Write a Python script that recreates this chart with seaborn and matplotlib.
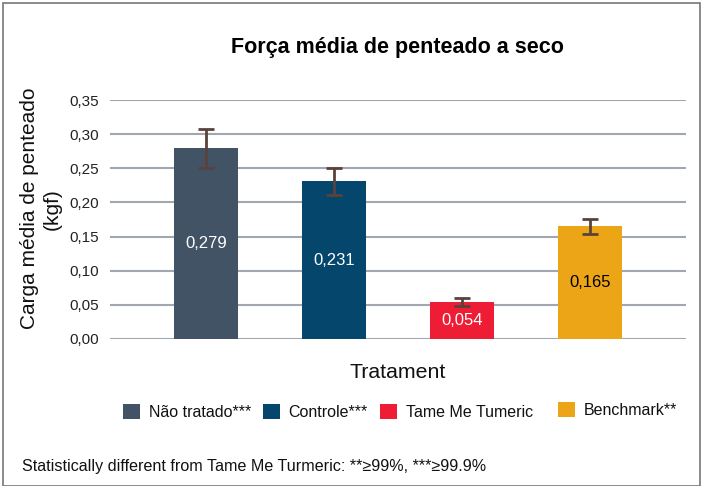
import matplotlib
matplotlib.use("Agg")
import matplotlib.pyplot as plt
import seaborn as sns
import pandas as pd
from matplotlib.patches import Rectangle, Patch

categories = ["Não tratado***", "Controle***", "Tame Me Tumeric", "Benchmark**"]
values = [0.279, 0.231, 0.054, 0.165]
errors = [0.029, 0.020, 0.006, 0.011]
colors = ["#435366", "#04466c", "#ee1c34", "#eda518"]
label_colors = ["white", "white", "white", "black"]
yticks = [0.0, 0.05, 0.10, 0.15, 0.20, 0.25, 0.30, 0.35]

sns.set_style("white")
plt.rcParams["font.family"] = ["Liberation Sans", "DejaVu Sans"]
plt.rcParams["text.color"] = "#111111"
plt.rcParams["axes.labelcolor"] = "#111111"
plt.rcParams["ytick.color"] = "#222222"

df = pd.DataFrame({"cat": categories, "val": values})

fig = plt.figure(figsize=(7.03, 4.86), dpi=100)
ax = fig.add_axes([110/703, (486-339)/486, (686-110)/703, (339-100)/486])

sns.barplot(data=df, x="cat", y="val", hue="cat", palette=colors,
            width=0.5, errorbar=None, legend=False, ax=ax, saturation=1,
            linewidth=0, zorder=3)
ax.errorbar(range(len(values)), values, yerr=errors, fmt="none",
            ecolor="#5a423b", elinewidth=2, capsize=6, capthick=2, zorder=4)

for i, (v, c) in enumerate(zip(values, label_colors)):
    ax.text(i, v / 2, f"{v:.3f}".replace(".", ","), ha="center", va="center",
            color=c, fontsize=12, zorder=5)

ax.set_ylim(0, 0.35)
ax.set_xlim(-0.75, 3.75)
ax.set_yticks(yticks)
ax.set_yticklabels([f"{t:.2f}".replace(".", ",") for t in yticks], fontsize=11)
ax.set_xticks([])
ax.grid(axis="y", color="#a2a6ae", linewidth=1.5, zorder=0)
for s in ax.spines.values():
    s.set_visible(False)
ax.tick_params(axis="y", length=0, pad=8)
ax.set_xlabel("")
ax.set_ylabel("Carga média de penteado\n(kgf)", fontsize=15, linespacing=1.25)
ax.yaxis.set_label_coords(-0.083, 0.545)
fig.text((110+686)/2/703, 1-372/486, "Tratament", ha="center", va="center", fontsize=15.3)

fig.text(397/703, 1-48/486, "Força média de penteado a seco", ha="center", va="center",
         fontsize=15.5, fontweight="bold", color="black")

patch_x = [123, 263, 380, 558]
legend_y = [412, 412, 412, 410]
for cat, col, px, py in zip(categories, colors, patch_x, legend_y):
    fig.legend([Patch(facecolor=col, edgecolor="none")], [cat], loc="center left",
               bbox_to_anchor=(px/703, 1-py/486), frameon=False, fontsize=11.5,
               handlelength=1.05, handleheight=1.05, handletextpad=0.55,
               borderpad=0, borderaxespad=0)

fig.text(22/703, 1-466/486, "Statistically different from Tame Me Turmeric: **\u226599%, ***\u226599.9%",
         ha="left", va="center", fontsize=11.6)

fig.patches.append(Rectangle((3/703, 0), 1 - 6/703, 1 - 3/486, transform=fig.transFigure,
                             fill=False, edgecolor="#777777", linewidth=1.2))

fig.savefig("out.png", dpi=100)
